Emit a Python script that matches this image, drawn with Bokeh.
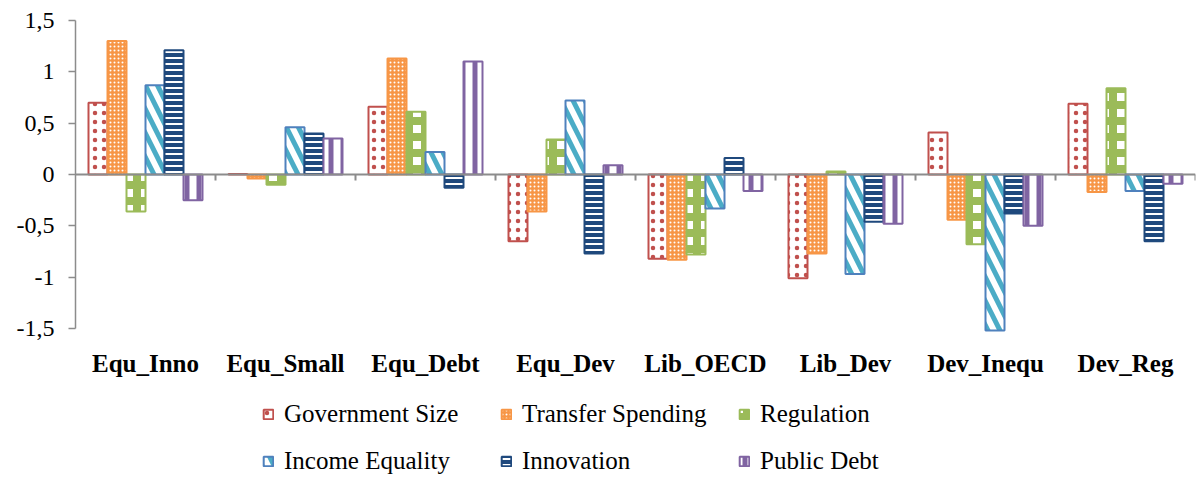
from bokeh.plotting import figure
from bokeh.models import (Range1d, FixedTicker, Span, Legend, LegendItem, ColumnDataSource)
from bokeh.core.properties import value
from bokeh.embed import file_html
from bokeh.resources import INLINE

categories = ["Equ_Inno", "Equ_Small", "Equ_Debt", "Equ_Dev", "Lib_OECD", "Lib_Dev", "Dev_Inequ", "Dev_Reg"]
series_names = ["Government Size", "Transfer Spending", "Regulation", "Income Equality", "Innovation", "Public Debt"]
government_size   = [0.70, 0.005, 0.66, -0.65, -0.82, -1.01, 0.41, 0.69]
transfer_spending = [1.30, -0.04, 1.13, -0.36, -0.83, -0.77, -0.44, -0.17]
regulation        = [-0.36, -0.10, 0.61, 0.34, -0.78, 0.03, -0.68, 0.84]
income_equality   = [0.87, 0.46, 0.22, 0.72, -0.33, -0.97, -1.52, -0.16]
innovation        = [1.21, 0.40, -0.13, -0.77, 0.16, -0.46, -0.38, -0.65]
public_debt       = [-0.25, 0.35, 1.10, 0.09, -0.16, -0.48, -0.50, -0.09]
y_ticks = [-1.5, -1.0, -0.5, 0.0, 0.5, 1.0, 1.5]
y_tick_labels = ["-1,5", "-1", "-0,5", "0", "0,5", "1", "1,5"]

series_values = [government_size, transfer_spending, regulation, income_equality, innovation, public_debt]

styles = [
    dict(fill_color="white", line_color="#C0504D", hatch_pattern="dot", hatch_color="#C0504D", hatch_scale=9, hatch_weight=3),
    dict(fill_color="#F79646", line_color="#F79646", hatch_pattern="dot", hatch_color="white", hatch_scale=4, hatch_weight=1.6),
    dict(fill_color="white", line_color="#9BBB59", hatch_pattern="cross", hatch_color="#9BBB59", hatch_scale=16, hatch_weight=8),
    dict(fill_color="white", line_color="#4F81BD", hatch_pattern="left_diagonal_line", hatch_color="#4BACC6", hatch_scale=24, hatch_weight=5),
    dict(fill_color="#1F497D", line_color="#1F497D", hatch_pattern="horizontal_line", hatch_color="white", hatch_scale=6, hatch_weight=2),
    dict(fill_color="white", line_color="#8064A2", hatch_pattern="vertical_line", hatch_color="#8064A2", hatch_scale=12, hatch_weight=5),
]

FONT = "Liberation Serif"
n = len(categories)
bar_w = 19 / 140
px_per_unit = 308 / 3.0          # plot area: 3 units over 308 px
extra = 148 / px_per_unit        # room below -1.5 for labels and legend

p = figure(width=1197, height=476, output_backend="svg", toolbar_location=None,
           x_range=Range1d(0, n), y_range=Range1d(-1.5 - extra, 1.5),
           min_border_left=75, min_border_right=2, min_border_top=20, min_border_bottom=0,
           x_axis_location=None)
p.outline_line_color = None
p.xgrid.visible = False
p.ygrid.visible = False
p.background_fill_color = "white"
p.border_fill_color = "white"

# y axis
ya = p.yaxis[0]
ya.bounds = (-1.5, 1.5)
ya.ticker = FixedTicker(ticks=y_ticks)
ya.major_label_overrides = {t: l for t, l in zip(y_ticks, y_tick_labels)}
ya.axis_line_color = "#8C8C8C"
ya.axis_line_width = 1.5
ya.major_tick_line_color = "#8C8C8C"
ya.major_tick_line_width = 1.5
ya.major_tick_in = 0
ya.major_tick_out = 7
ya.minor_tick_line_color = None
ya.major_label_text_font = FONT
ya.major_label_text_font_size = "24px"
ya.major_label_text_color = "black"
ya.major_label_standoff = 14

# category labels below the plot area
centers = [i + 0.5 for i in range(n)]
label_y = -1.5 - 35 / px_per_unit
p.text(x=centers, y=[label_y] * n, text=categories,
       text_font=value(FONT), text_font_size="25px", text_font_style="bold",
       text_color="black", text_align="center", text_baseline="middle")

# zero line and category boundary ticks
p.add_layout(Span(location=0, dimension="width", line_color="#8C8C8C", line_width=2))
bounds = list(range(1, n + 1))
p.segment(x0=bounds, y0=[0] * n, x1=bounds, y1=[-6 / px_per_unit] * n, line_color="#8C8C8C", line_width=2)

items = []
for j, (name, vals, st) in enumerate(zip(series_names, series_values, styles)):
    xs = [i + 0.5 + (j - 2.5) * bar_w for i in range(n)]
    src = ColumnDataSource(dict(x=xs, top=vals))
    r = p.vbar(x="x", top="top", bottom=0, width=bar_w, source=src, line_width=2, **st)
    items.append(LegendItem(label=name, renderers=[r]))

legend = Legend(items=items, orientation="horizontal", ncols=3,
                location=(187, 1),
                label_text_font=FONT, label_text_font_size="25px", label_text_color="black",
                glyph_width=12, glyph_height=12, label_standoff=10,
                label_width=197, label_height=19, spacing=19, padding=0, margin=0,
                border_line_color=None, background_fill_alpha=0)
p.add_layout(legend, "center")

open("out.html", "w").write(file_html(p, INLINE))
